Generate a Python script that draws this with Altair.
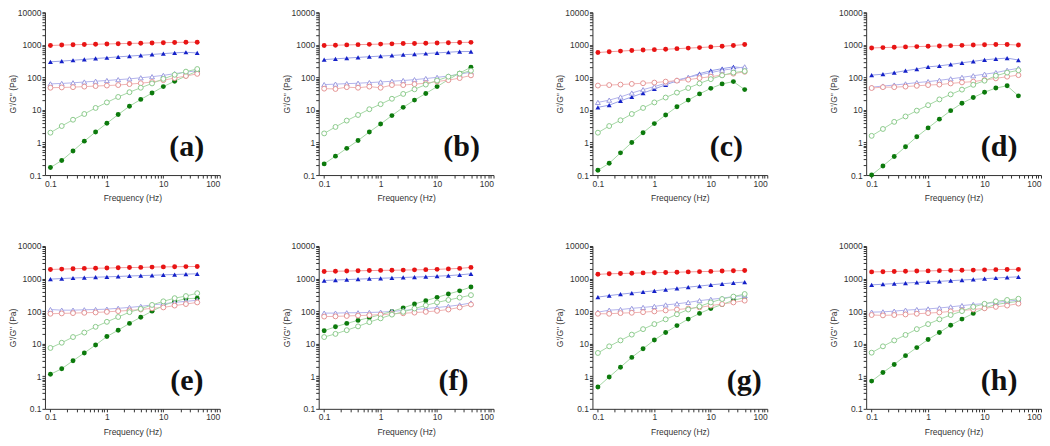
import altair as alt
import pandas as pd

FREQ = [0.1, 0.1585, 0.2512, 0.3981, 0.631, 1.0, 1.585, 2.512, 3.981, 6.31, 10.0, 15.85, 25.12, 39.81]

A_RED = [950, 980, 1000, 1020, 1040, 1060, 1080, 1100, 1120, 1140, 1160, 1180, 1200, 1200]
A_BLUE = [300, 315, 335, 355, 380, 400, 425, 450, 475, 505, 535, 565, 590, 560]
A_LAV = [63, 65, 68, 72, 76, 80, 85, 90, 97, 105, 115, 130, 145, 160]
A_PINK = [48, 49, 50, 52, 54, 56, 58, 62, 66, 72, 82, 95, 110, 128]
A_LG = [2.0, 3.2, 5.0, 7.5, 11.5, 17, 25, 35, 48, 65, 90, 120, 150, 180]
A_DG = [0.17, 0.28, 0.55, 1.1, 2.1, 3.9, 7.2, 13, 21, 33, 52, 76, 110, 155]

B_RED = [950, 970, 990, 1010, 1030, 1050, 1070, 1090, 1100, 1120, 1140, 1160, 1180, 1190]
B_BLUE = [350, 370, 390, 410, 430, 450, 470, 495, 515, 540, 565, 590, 620, 620]
B_LAV = [60, 62, 64, 66, 69, 72, 76, 80, 85, 92, 100, 110, 125, 145]
B_PINK = [45, 44, 50, 48, 52, 48, 58, 58, 62, 66, 75, 82, 95, 115]
B_LG = [1.9, 3.0, 4.7, 7.0, 10.5, 15, 22, 31, 43, 60, 80, 105, 130, 160]
B_DG = [0.22, 0.38, 0.66, 1.15, 2.1, 3.7, 6.7, 12, 20, 32, 52, 85, 135, 205]

C_RED = [580, 610, 640, 670, 690, 710, 730, 760, 790, 820, 860, 900, 950, 1020]
C_BLUE = [12, 14, 19, 25, 33, 44, 59, 78, 100, 130, 160, 185, 210, 195]
C_LAV = [17, 20, 25, 33, 42, 52, 66, 83, 100, 120, 140, 165, 185, 210]
C_PINK = [56, 58, 60, 63, 66, 69, 74, 79, 85, 95, 105, 117, 130, 148]
C_LG = [2.0, 3.2, 4.8, 7.5, 11.5, 17, 24, 34, 47, 65, 88, 115, 140, 155]
C_DG = [0.14, 0.23, 0.48, 1.0, 2.0, 3.8, 7.0, 12.5, 20, 31, 46, 63, 74, 42]

D_RED = [800, 820, 840, 860, 880, 900, 920, 940, 960, 980, 1000, 1020, 1020, 980]
D_BLUE = [117, 125, 140, 160, 180, 210, 225, 250, 280, 310, 345, 370, 390, 340]
D_LAV = [50, 54, 58, 63, 69, 74, 81, 90, 100, 112, 125, 140, 165, 190]
D_PINK = [47, 50, 50, 52, 55, 58, 60, 65, 70, 74, 83, 93, 105, 117]
D_LG = [1.6, 2.6, 4.3, 6.3, 9.5, 14, 21, 30, 42, 59, 79, 112, 140, 165]
D_DG = [0.1, 0.19, 0.37, 0.74, 1.5, 2.8, 5.2, 9.5, 16, 24, 35, 47, 55, 27]

E_RED = [1900, 1950, 2000, 2050, 2080, 2100, 2150, 2180, 2200, 2250, 2280, 2300, 2330, 2350]
E_BLUE = [960, 1000, 1040, 1070, 1100, 1130, 1160, 1200, 1230, 1260, 1300, 1330, 1370, 1400]
E_LAV = [112, 107, 107, 110, 112, 115, 122, 130, 140, 155, 168, 185, 200, 215]
E_PINK = [83, 85, 87, 89, 91, 95, 100, 105, 112, 122, 130, 148, 165, 185]
E_LG = [7.4, 10.7, 16, 22, 33, 47, 66, 93, 117, 155, 200, 250, 290, 355]
E_DG = [1.15, 1.7, 3.0, 5.2, 9.1, 16.6, 26, 42, 65, 100, 148, 200, 240, 250]

F_RED = [1650, 1680, 1700, 1730, 1760, 1780, 1800, 1820, 1850, 1880, 1920, 1980, 2050, 2200]
F_BLUE = [870, 900, 930, 960, 990, 1020, 1050, 1080, 1110, 1140, 1180, 1230, 1300, 1400]
F_LAV = [87, 87, 89, 89, 91, 93, 98, 105, 112, 120, 129, 140, 155, 178]
F_PINK = [68, 69, 71, 73, 75, 78, 82, 86, 90, 95, 102, 112, 130, 160]
F_LG = [16, 20, 26, 34, 46, 60, 78, 95, 120, 150, 185, 220, 260, 310]
F_DG = [25, 33, 42, 52, 63, 78, 98, 126, 165, 210, 265, 335, 420, 550]

G_RED = [1350, 1400, 1430, 1460, 1490, 1510, 1540, 1570, 1600, 1630, 1660, 1700, 1740, 1760]
G_BLUE = [270, 300, 330, 360, 390, 420, 460, 500, 545, 590, 640, 690, 740, 780]
G_LAV = [93, 107, 112, 122, 130, 140, 155, 168, 185, 210, 230, 250, 280, 300]
G_PINK = [83, 83, 87, 89, 93, 98, 105, 112, 120, 130, 148, 165, 185, 210]
G_LG = [5.2, 8.3, 12.6, 19, 28, 40, 56, 80, 112, 140, 185, 235, 280, 335]
G_DG = [0.47, 0.95, 1.9, 3.8, 7.0, 13, 22, 36, 57, 85, 120, 160, 215, 260]

H_RED = [1600, 1620, 1650, 1680, 1700, 1720, 1750, 1780, 1800, 1820, 1850, 1880, 1900, 1920]
H_BLUE = [640, 670, 700, 730, 760, 790, 820, 860, 900, 940, 990, 1040, 1090, 1130]
H_LAV = [93, 95, 100, 107, 112, 117, 125, 135, 148, 160, 170, 185, 200, 220]
H_PINK = [76, 74, 76, 79, 83, 87, 91, 98, 105, 112, 122, 135, 148, 170]
H_LG = [5.3, 8.3, 12.6, 18.6, 28, 40, 56, 76, 100, 135, 168, 200, 220, 240]
H_DG = [0.71, 1.3, 2.3, 4.3, 7.6, 13.5, 22, 37, 57, 85, 125, 160, 180, 200]

PANELS = {
    "(a)": [A_RED, A_BLUE, A_LAV, A_PINK, A_LG, A_DG],
    "(b)": [B_RED, B_BLUE, B_LAV, B_PINK, B_LG, B_DG],
    "(c)": [C_RED, C_BLUE, C_LAV, C_PINK, C_LG, C_DG],
    "(d)": [D_RED, D_BLUE, D_LAV, D_PINK, D_LG, D_DG],
    "(e)": [E_RED, E_BLUE, E_LAV, E_PINK, E_LG, E_DG],
    "(f)": [F_RED, F_BLUE, F_LAV, F_PINK, F_LG, F_DG],
    "(g)": [G_RED, G_BLUE, G_LAV, G_PINK, G_LG, G_DG],
    "(h)": [H_RED, H_BLUE, H_LAV, H_PINK, H_LG, H_DG],
}
LABEL_X = {"(a)": 142, "(b)": 143, "(c)": 134, "(d)": 133,
           "(e)": 142, "(f)": 135, "(g)": 152, "(h)": 133}

SERIES = ["red", "blue", "lavender", "pink", "lightgreen", "darkgreen"]
LINE_COLORS = ["#f29a9a", "#9aa2e6", "#b4b4ec", "#f0b4b4", "#a6d8a6", "#a6d8a6"]
MARK_COLORS = ["#e81414", "#1420c8", "#9c9ce0", "#e49494", "#8cca8c", "#0c7a0c"]
SHAPES = ["circle", "triangle-up", "triangle-up", "circle", "circle", "circle"]
FILLED = ["red", "blue", "darkgreen"]
OPEN = ["lavender", "pink", "lightgreen"]

W, H = 175, 163
X_TICKS = [float(f"{m * 10 ** e:.6g}") for e in (-1, 0, 1) for m in range(1, 10)] + [100.0]
Y_TICKS = [float(f"{m * 10 ** e:.6g}") for e in (-1, 0, 1, 2, 3) for m in range(1, 10)] + [10000.0]
DECADE_EXPR = ("abs(log(datum.value)/LN10 - round(log(datum.value)/LN10)) < 1e-6 "
               "? format(datum.value, '~g') : ''")

xenc = alt.X("freq:Q", scale=alt.Scale(type="log", domain=[0.08, 100], nice=False),
             axis=alt.Axis(title="Frequency (Hz)", values=X_TICKS, labelExpr=DECADE_EXPR,
                           labelOverlap=False, titlePadding=6, labelPadding=1, grid=False))
yenc = alt.Y("value:Q", scale=alt.Scale(type="log", domain=[0.1, 10000], nice=False),
             axis=alt.Axis(title="G'/G\" (Pa)", values=Y_TICKS, labelExpr=DECADE_EXPR,
                           labelOverlap=False, titlePadding=0, labelPadding=1, grid=False))


def panel(name):
    rows = []
    for s, vals in zip(SERIES, PANELS[name]):
        for f, v in zip(FREQ, vals):
            rows.append({"series": s, "freq": f, "value": v})
    df = pd.DataFrame(rows)
    base = alt.Chart(df)
    lines = base.mark_line(strokeWidth=1).encode(
        x=xenc, y=yenc,
        color=alt.Color("series:N", scale=alt.Scale(domain=SERIES, range=LINE_COLORS), legend=None),
        detail="series:N",
    )
    filled = base.transform_filter(
        alt.FieldOneOfPredicate(field="series", oneOf=FILLED)
    ).mark_point(filled=True, size=24, opacity=1).encode(
        x=xenc, y=yenc,
        fill=alt.Fill("series:N", scale=alt.Scale(domain=SERIES, range=MARK_COLORS), legend=None),
        shape=alt.Shape("series:N", scale=alt.Scale(domain=SERIES, range=SHAPES), legend=None),
    )
    opened = base.transform_filter(
        alt.FieldOneOfPredicate(field="series", oneOf=OPEN)
    ).mark_point(filled=False, fill="white", fillOpacity=1, size=24, strokeWidth=1, opacity=1).encode(
        x=xenc, y=yenc,
        stroke=alt.Stroke("series:N", scale=alt.Scale(domain=SERIES, range=MARK_COLORS), legend=None),
        shape=alt.Shape("series:N", scale=alt.Scale(domain=SERIES, range=SHAPES), legend=None),
    )
    label = alt.Chart(pd.DataFrame({"label": [name]})).mark_text(
        font="Liberation Serif", fontSize=30, fontWeight="bold", color="#111",
        align="center", baseline="alphabetic",
    ).encode(text="label:N", x=alt.value(LABEL_X[name]), y=alt.value(H - 19))
    return alt.layer(lines, filled, opened, label).properties(width=W, height=H)


names = list(PANELS.keys())

chart = alt.concat(
    *[panel(n) for n in names], columns=4,
    spacing={"row": 71, "column": 99}, bounds="flush",
).properties(
    padding={"left": 0, "top": 0, "right": 0, "bottom": 28},
    background="white",
).configure_view(stroke=None).configure_axis(
    grid=False,
    labelFont="Liberation Sans", titleFont="Liberation Sans",
    labelFontSize=8.5, titleFontSize=8.5, titleFontWeight="normal",
    labelColor="#333", titleColor="#333", domainColor="#333", tickColor="#333",
    tickSize=3, domainWidth=1, tickWidth=1,
)

chart.save("out.html", embed_options={"renderer": "svg", "actions": False})
